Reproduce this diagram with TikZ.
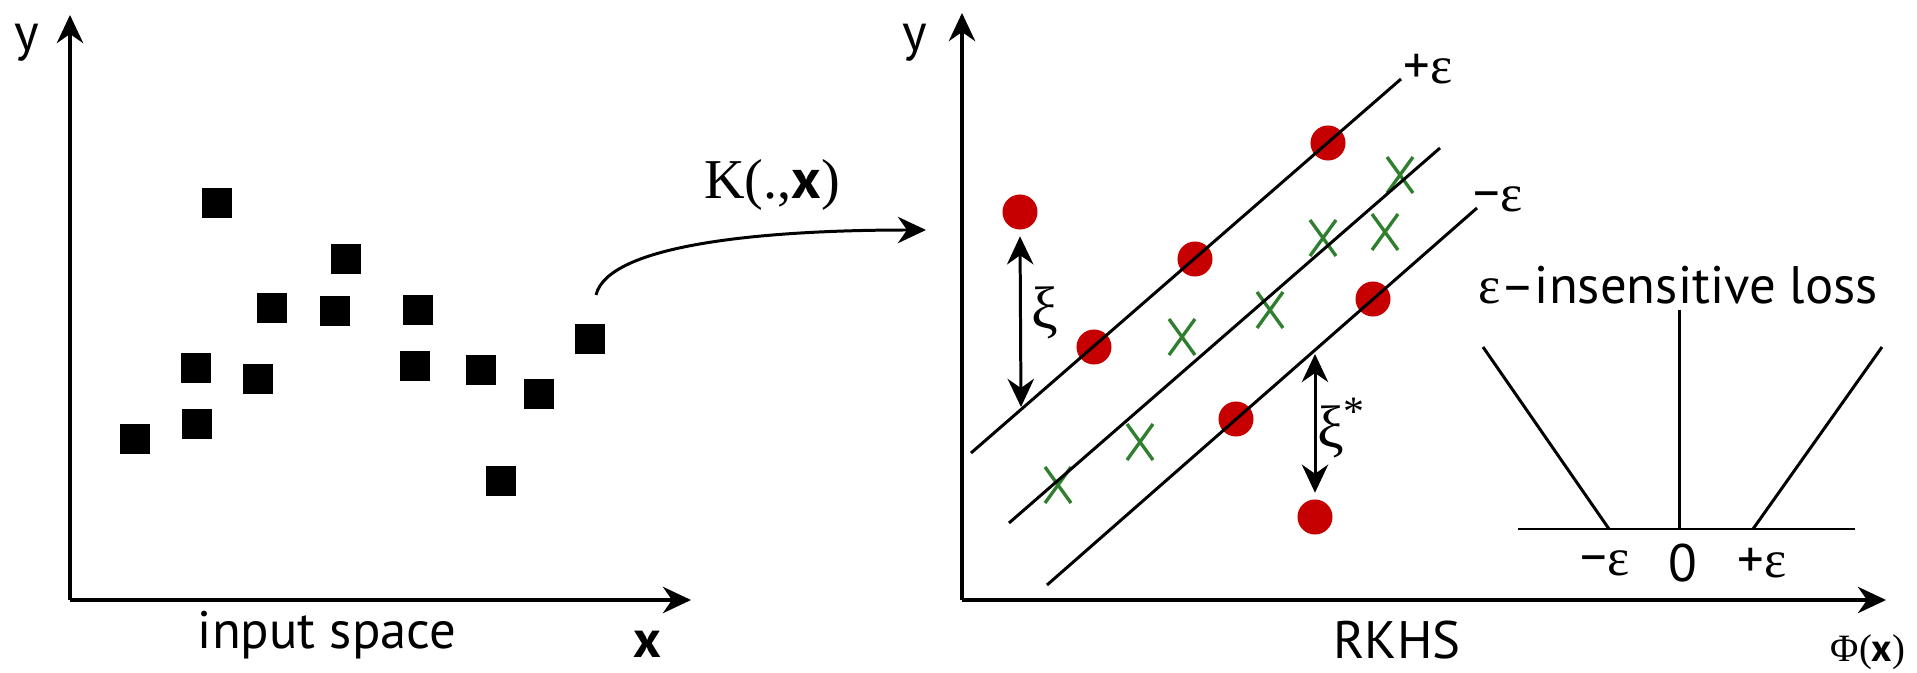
\documentclass[tikz,border=0pt]{standalone}
\usepackage{fontspec}
\setmainfont{PT Sans}
\newfontfamily\grk{Liberation Serif}
\usetikzlibrary{arrows.meta}
\definecolor{dotred}{HTML}{C60000}
\definecolor{crossgreen}{HTML}{2F7F2F}
\begin{document}
\begin{tikzpicture}[x=0.01cm, y=-0.01cm, >={Stealth[length=8pt, width=7.5pt]}, line width=0.85pt,
  axisline/.style={->, line width=1pt},
  sq/.style={fill=black, minimum size=0.29cm, inner sep=0pt},
  dot/.style={circle, fill=dotred, minimum size=0.35cm, inner sep=0pt},
  xmk/.style={crossgreen, line width=0.95pt},
  lab/.style={font=\fontsize{15}{18}\selectfont, inner sep=0pt},
  greek/.style={font=\fontsize{17}{20}\selectfont\grk, inner sep=0pt}]
\useasboundingbox (0,0) rectangle (1917,673);
\fill[white] (0,0) rectangle (1917,673);
% input space
\coordinate (o1) at (70,600);
\draw[axisline] (o1) -- (70,15);
\draw[axisline] (o1) -- (691,600);
\node[lab] (ylab1) at (27,43) {y};
\node[lab] (xlab1) at (647,644) {\textbf{x}};
\node[lab] (inspace) at (327,635) {input space};
\foreach \n/\px/\py in {1/217/203, 2/346/259, 3/272/308, 4/335/311, 5/418/310, 6/196/368, 7/258/379,
  8/415/366, 9/481/370, 10/135/439, 11/197/424, 12/539/394, 13/590/339, 14/501/481}
  \node[sq] (s\n) at (\px,\py) {};
% kernel map
\coordinate (kstart) at (596,295);
\coordinate (kend) at (926,230);
\draw[->] (kstart) .. controls (608,245) and (760,230) .. (kend);
\node[font=\fontsize{16}{19}\selectfont, inner sep=0pt] (kmap) at (772,185) {{\grk K(.,}\textbf{x}{\grk )}};
% RKHS
\coordinate (o2) at (962,600);
\draw[axisline] (o2) -- (962,13);
\draw[axisline] (o2) -- (1886,600);
\node[lab] (ylab2) at (915,43) {y};
\node[lab] (rkhs) at (1397,640) {RKHS};
\node[font=\fontsize{11}{13}\selectfont, inner sep=0pt] (phix) at (1868,652) {{\grk Φ(}\textbf{x}{\grk )}};
\foreach \n/\px/\py in {1/1020/212, 2/1094/347, 3/1195/259, 4/1328/143, 5/1236/419, 6/1373/299, 7/1315/517}
  \node[dot] (d\n) at (\px,\py) {};
\foreach \px/\py in {1058/485, 1140/442, 1182/337, 1270/310, 1323/238, 1385/232, 1400/175}
  \draw[xmk] (\px,\py) +(-13,-18) -- +(13,18) +(-13,18) -- +(13,-18);
\coordinate (e1a) at (971,453);
\coordinate (e1b) at (1401,79);
\coordinate (m2a) at (1009,523);
\coordinate (m2b) at (1440,148);
\coordinate (e3a) at (1047,585);
\coordinate (e3b) at (1477,208);
\draw (e1a) -- (e1b);
\draw (m2a) -- (m2b);
\draw (e3a) -- (e3b);
\node[lab] (pluseps) at (1428,69) {+{\grk ε}};
\node[lab] (minuseps) at (1498,199) {−{\grk ε}};
\coordinate (f1) at (1021,407);
\coordinate (f2) at (1315,354);
\draw[<->, shorten <=1.5pt] (d1.south) -- (f1);
\draw[<->, shorten >=1.5pt] (f2) -- (d7.north);
\node[greek] (xi) at (1045,313) {ξ};
\node[greek] (xistar) at (1342,428) {ξ\textsuperscript{*}};
% loss function
\coordinate (bl) at (1518,529);
\coordinate (br) at (1855,529);
\coordinate (zt) at (1679,310);
\draw (bl) -- (br);
\draw (zt) -- (zt |- bl);
\draw (1483,347) -- (1609,529);
\draw (1753,529) -- (1882,347);
\node[lab] (losstitle) at (1678,285) {{\grk ε}–insensitive loss};
\node[lab] (lm) at (1605,563) {−{\grk ε}};
\node[lab] (lz) at (1683,563) {0};
\node[lab] (lp) at (1762,563) {+{\grk ε}};
\end{tikzpicture}
\end{document}
